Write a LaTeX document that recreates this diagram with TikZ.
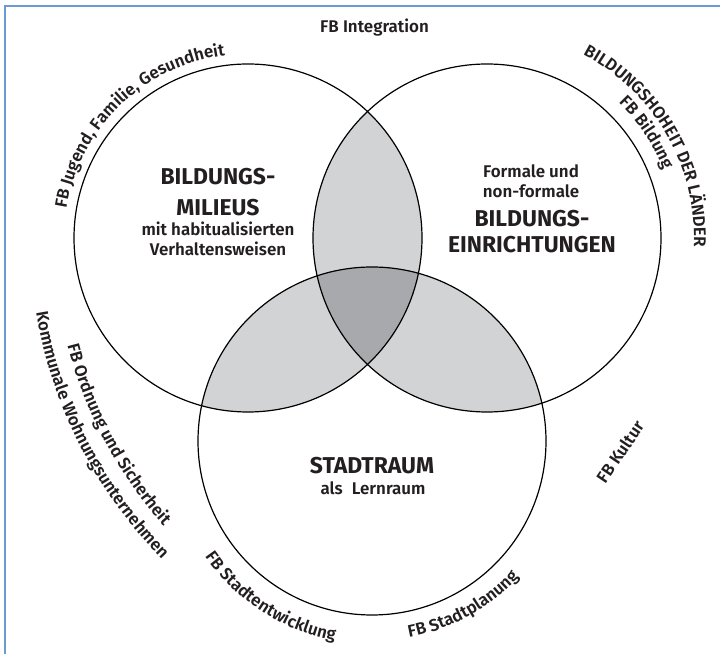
\documentclass[tikz,border=0pt]{standalone}
\usepackage{fontspec}
\setmainfont{Fira Sans}
\IfFontExistsTF{Fira Sans SemiBold}
  {\newfontfamily\semifont{Fira Sans SemiBold}}
  {\IfFontExistsTF{Fira Sans Medium}
    {\newfontfamily\semifont{Fira Sans Medium}}
    {\newfontfamily\semifont{Fira Sans}}}
\usetikzlibrary{decorations.text}
\definecolor{ink}{HTML}{231F20}
\definecolor{lightg}{HTML}{D1D3D4}
\definecolor{darkg}{HTML}{A7A9AC}
\definecolor{frameblue}{HTML}{6A9BD3}
\newcommand\mylbl{\semifont\fontsize{17}{20}\selectfont}
\newcommand\myttl{\fontsize{23}{26}\selectfont\bfseries}
\begin{document}
\begin{tikzpicture}[x=1bp,y=1bp,
  lbltext/.style={font=\mylbl, text=ink, inner sep=0pt, anchor=base},
  ttltext/.style={font=\myttl, text=ink, inner sep=0pt, anchor=base},
  ring/.style={draw=black, line width=1.2bp},
  arclabel/.style={decorate, decoration={text along path, text align=center, text color=ink, text={|\mylbl|#1}}}]
\useasboundingbox (0,0) rectangle (720,654);
\coordinate (cL) at (248,416);
\coordinate (cR) at (487,416);
\coordinate (cB) at (372,213);
\def\rad{174}
% overlaps
\begin{scope}
  \clip (cL) circle[radius=\rad];
  \fill[lightg] (cR) circle[radius=\rad];
  \fill[lightg] (cB) circle[radius=\rad];
\end{scope}
\begin{scope}
  \clip (cR) circle[radius=\rad];
  \fill[lightg] (cB) circle[radius=\rad];
\end{scope}
\begin{scope}
  \clip (cL) circle[radius=\rad];
  \clip (cR) circle[radius=\rad];
  \fill[darkg] (cB) circle[radius=\rad];
\end{scope}
\draw[ring] (cL) circle[radius=\rad];
\draw[ring] (cR) circle[radius=\rad];
\draw[ring] (cB) circle[radius=\rad];
% frame
\coordinate (fBL) at (4.5,0);
\coordinate (fTL) at (4.5,647.5);
\coordinate (fTR) at (720,647.5);
\draw[frameblue, line width=2bp] (fBL) -- (fTL) -- (fTR);
% circle texts
\node[ttltext] (t1a) at (218,469.5) {BILDUNGS-};
\node[ttltext] (t1b) at (218,438.5) {MILIEUS};
\node[lbltext] (t1c) at (218,418) {mit habitualisierten};
\node[lbltext] (t1d) at (218,398) {Verhaltensweisen};
\node[lbltext] (t2a) at (531,476) {Formale und};
\node[lbltext] (t2b) at (531,456) {non-formale};
\node[ttltext] (t2c) at (532,427) {BILDUNGS-};
\node[ttltext] (t2d) at (532,401) {EINRICHTUNGEN};
\node[ttltext] (t3a) at (372,180) {STADTRAUM};
\node[lbltext] (t3b) at (373,159) {als\hspace{0.3em} Lernraum};
% outer labels
\node[lbltext] (integ) at (374.5,621) {FB Integration};
\node[font=\mylbl, text=ink, inner sep=0pt, rotate=56] (kultur) at (620,202) {FB Kultur};
\path[arclabel={FB Jugend, Familie, Gesundheit}] ([shift={(cL)}]179:184) arc[start angle=179, end angle=89, radius=184];
\path[arclabel={BILDUNGSHOHEIT DER LÄNDER}] ([shift={(cR)}]80:207) arc[start angle=80, end angle=-20, radius=207];
\path[arclabel={FB Bildung}] ([shift={(cR)}]63.5:189) arc[start angle=63.5, end angle=3.5, radius=189];
\path[arclabel={FB Ordnung und Sicherheit}] ([shift={(cR)}]183:433) arc[start angle=183, end angle=233, radius=433];
\path[arclabel={Kommunale Wohnungsunternehmen}] ([shift={(cR)}]182:457) arc[start angle=182, end angle=232, radius=457];
\path[arclabel={FB Stadtentwicklung}] ([shift={(cB)}]202:203) arc[start angle=202, end angle=272, radius=203];
\path[arclabel={FB Stadtplanung}] ([shift={(cB)}]269:200) arc[start angle=269, end angle=329, radius=200];
\end{tikzpicture}
\end{document}
